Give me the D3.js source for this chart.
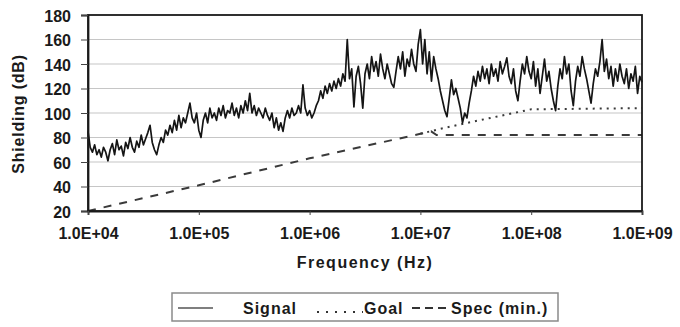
<!DOCTYPE html>
<html>
<head>
<meta charset="utf-8">
<script src="https://cdn.jsdelivr.net/npm/d3@7"></script>
<style>
  html, body { margin: 0; padding: 0; background: #fff; }
  svg { display: block; }
  text { font-family: "Liberation Sans", Arial, sans-serif; font-weight: bold; fill: #1a1a1a; }
</style>
</head>
<body>
<svg id="chart" width="680" height="327"></svg>
<script>
// ---- data ----
const xTickValues = [1e4, 1e5, 1e6, 1e7, 1e8, 1e9];
const xTickLabels = ["1.0E+04", "1.0E+05", "1.0E+06", "1.0E+07", "1.0E+08", "1.0E+09"];
const yTickValues = [20, 40, 60, 80, 100, 120, 140, 160, 180];

// Signal sweep: log10(frequency) from 4 to 9 in 0.02 decade steps
const signalStartLog = 4;
const signalStepLog = 0.02;
const signalDb = [
  85,72,68,74,66,70,64,72,68,61, 70,75,66,78,70,73,65,76,71,80,
  72,68,77,72,82,74,79,84,90,76, 70,66,74,80,76,86,82,90,84,94,
  86,98,88,96,92,100,108,96,92,100, 86,80,94,100,92,104,96,100,94,104,
  98,106,96,102,100,108,98,104,96,106, 100,110,102,116,100,106,98,104,100,96,
  104,98,94,100,88,96,86,92,85,96, 102,96,104,98,100,106,100,123,104,98,
  102,96,100,106,110,118,112,122,116,124, 118,126,120,128,122,132,126,160,128,136,
  105,130,138,124,104,132,140,128,146,134, 142,130,148,136,128,140,132,124,121,134,
  146,136,150,130,144,138,152,140,134,156, 168,140,160,132,150,126,146,136,128,118,
  110,102,97,112,127,115,120,112,104,92, 100,96,108,118,130,122,134,126,138,128,
  136,124,140,130,136,126,142,132,138,145, 130,124,136,118,110,126,140,132,146,134,
  128,142,122,136,116,130,144,126,134,120, 110,102,122,136,128,146,132,140,118,106,
  126,138,130,146,136,128,118,108,124,136, 130,142,160,134,144,128,138,122,136,126,
  140,130,124,136,120,132,126,138,116,130, 125
];

// Goal (dotted) and Spec (min., dashed) break points
const goalFreq = [1e7, 1.5e7, 3e7, 1e8, 1e9];
const goalDb   = [83, 87, 93, 103, 104];
const specFreq = [1e4, 1e5, 1e6, 1e7, 1.25e7, 1.4e7, 1e9];
const specDb   = [20, 41, 63, 83, 85, 82, 82];

const legendLabels = ["Signal", "Goal", "Spec (min.)"];

// ---- layout ----
const svg = d3.select("#chart");
const x = d3.scaleLog().domain([1e4, 1e9]).range([88, 642]);
const y = d3.scaleLinear().domain([20, 180]).range([211, 15]);

// gridlines
svg.append("g").selectAll("line")
  .data(yTickValues.filter(v => v > 20 && v < 180))
  .join("line")
  .attr("x1", x(1e4)).attr("x2", x(1e9))
  .attr("y1", d => y(d)).attr("y2", d => y(d))
  .attr("stroke", "#c6c6c6").attr("stroke-width", 1.2);

// spec line (dashed)
const specData = specFreq.map((f, i) => ({ f, v: specDb[i] }));
svg.append("path").datum(specData)
  .attr("fill", "none").attr("stroke", "#3a3a3a").attr("stroke-width", 2)
  .attr("stroke-dasharray", "8,8")
  .attr("d", d3.line().x(d => x(d.f)).y(d => y(d.v)));

// goal line (dotted)
const goalData = goalFreq.map((f, i) => ({ f, v: goalDb[i] }));
svg.append("path").datum(goalData)
  .attr("fill", "none").attr("stroke", "#3a3a3a").attr("stroke-width", 2)
  .attr("stroke-dasharray", "2,5")
  .attr("d", d3.line().x(d => x(d.f)).y(d => y(d.v)));

// signal
const signalData = signalDb.map((v, i) => ({ f: Math.pow(10, signalStartLog + i * signalStepLog), v }));
svg.append("path").datum(signalData)
  .attr("fill", "none").attr("stroke", "#151515").attr("stroke-width", 1.7)
  .attr("stroke-linejoin", "round")
  .attr("d", d3.line().x(d => x(Math.min(d.f, 1e9))).y(d => y(d.v)));

// frame
svg.append("rect")
  .attr("x", x(1e4)).attr("y", y(180))
  .attr("width", x(1e9) - x(1e4)).attr("height", y(20) - y(180))
  .attr("fill", "none").attr("stroke", "#1a1a1a").attr("stroke-width", 1.8);

// y axis
const yAxis = svg.append("g").attr("transform", `translate(${x(1e4)},0)`)
  .call(d3.axisLeft(y).tickValues(yTickValues).tickSize(7).tickPadding(10));
yAxis.select(".domain").attr("stroke", "#1a1a1a").attr("stroke-width", 1.8);
yAxis.selectAll(".tick line").attr("stroke", "#444");
yAxis.selectAll(".tick text")
  .style("font-size", "16px").style("font-weight", "bold")
  .style("font-family", "'Liberation Sans', Arial, sans-serif")
  .attr("fill", "#1a1a1a").attr("dy", "0.38em");

// x axis
const xAxis = svg.append("g").attr("transform", `translate(0,${y(20)})`)
  .call(d3.axisBottom(x).tickValues(xTickValues).tickSize(4)
    .tickFormat((d, i) => xTickLabels[i]));
xAxis.select(".domain").attr("stroke", "#1a1a1a").attr("stroke-width", 1.8);
xAxis.selectAll(".tick line").attr("stroke", "#444");
xAxis.selectAll(".tick text")
  .style("font-size", "16px").style("font-weight", "bold")
  .style("font-family", "'Liberation Sans', Arial, sans-serif")
  .attr("fill", "#1a1a1a").attr("y", 28).attr("dy", 0);

// axis titles
svg.append("text")
  .attr("x", (x(1e4) + x(1e9)) / 2).attr("y", 268)
  .attr("text-anchor", "middle")
  .style("font-size", "16px").style("letter-spacing", "1.5px")
  .text("Frequency (Hz)");

svg.append("text")
  .attr("transform", "translate(24,114) rotate(-90)")
  .attr("text-anchor", "middle")
  .style("font-size", "16px").style("letter-spacing", "0.8px")
  .text("Shielding (dB)");

// legend
const lg = svg.append("g");
lg.append("rect").attr("x", 172).attr("y", 293).attr("width", 386).attr("height", 28)
  .attr("fill", "#fff").attr("stroke", "#8a8a8a").attr("stroke-width", 1.5);
const ly = 308;
lg.append("line").attr("x1", 178).attr("x2", 213).attr("y1", ly).attr("y2", ly)
  .attr("stroke", "#555").attr("stroke-width", 1.6);
lg.append("text").attr("x", 243).attr("y", ly + 6).style("font-size", "16px")
  .style("letter-spacing", "1px").text(legendLabels[0]);
lg.append("line").attr("x1", 317).attr("x2", 363).attr("y1", ly + 4).attr("y2", ly + 4)
  .attr("stroke", "#333").attr("stroke-width", 2).attr("stroke-dasharray", "2,7");
lg.append("text").attr("x", 364).attr("y", ly + 6).style("font-size", "16px")
  .style("letter-spacing", "1px").text(legendLabels[1]);
lg.append("line").attr("x1", 412).attr("x2", 450).attr("y1", ly).attr("y2", ly)
  .attr("stroke", "#333").attr("stroke-width", 2).attr("stroke-dasharray", "8,5");
lg.append("text").attr("x", 451).attr("y", ly + 6).style("font-size", "16px")
  .style("letter-spacing", "1px").text(legendLabels[2]);
</script>
</body>
</html>
